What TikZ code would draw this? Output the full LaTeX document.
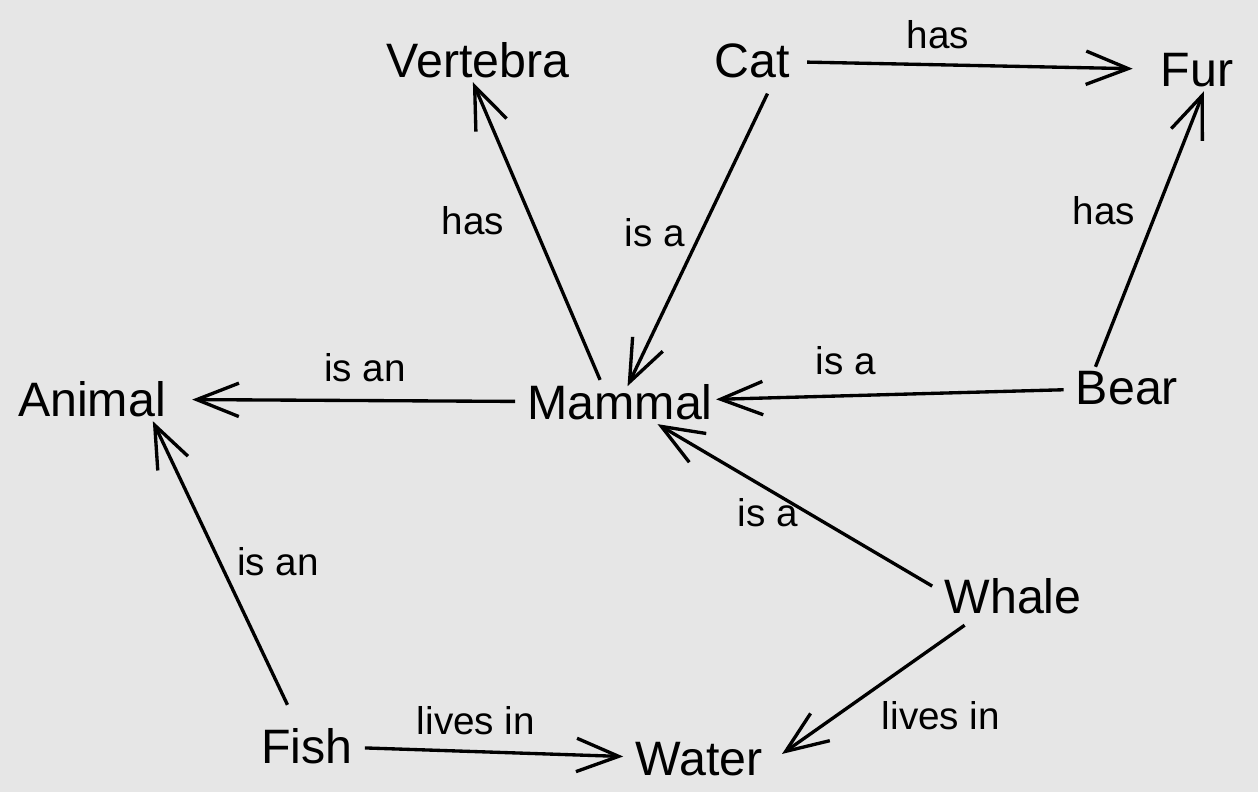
\documentclass[tikz,border=0pt]{standalone}
\usepackage{fontspec}
\setmainfont{Liberation Sans}
\usetikzlibrary{arrows.meta}
\definecolor{canvas}{RGB}{230,230,230}

\begin{document}
\begin{tikzpicture}[x=0.02cm, y=-0.02cm,
  concept/.style={font=\fontsize{27.5}{30}\selectfont, inner xsep=6.8pt, inner ysep=2.3pt},
  rel/.style={line width=1.9pt, -{Straight Barb[length=24pt, width=19pt]}},
  lbl/.style={font=\fontsize{22}{26}\selectfont, inner sep=0pt}]
  % Background
  \fill[canvas] (0,0) rectangle (1258,792);

  % Concepts
  \node[concept] (vertebra) at (478,60) {Vertebra};
  \node[concept] (cat) at (752,61) {Cat};
  \node[concept] (fur) at (1197,70) {Fur};
  \node[concept] (animal) at (92,399) {Animal};
  \node[concept] (mammal) at (620,402) {Mammal};
  \node[concept] (bear) at (1127,388) {Bear};
  \node[concept] (whale) at (1013,596) {Whale};
  \node[concept] (fish) at (307,746) {Fish};
  \node[concept] (water) at (699,759) {Water};

  % Relations
  \draw[rel, shorten <=3pt, shorten >=9pt] (cat) -- (fur);
  \draw[rel, shorten <=7pt, shorten >=-4pt] (cat.-46) -- (mammal);
  \draw[rel] (mammal.132) -- (vertebra.-103);
  \draw[rel, shorten >=8pt] (mammal) -- (animal);
  \draw[rel, shorten >=-5pt] (bear) -- (mammal);
  \draw[rel] (bear.146) -- (fur.-72);
  \draw[rel] (whale.173) -- (mammal);
  \draw[rel, shorten <=7pt, shorten >=5pt] (whale.210) -- (water.east);
  \draw[rel, shorten <=12pt] (fish) -- (animal.-20);
  \draw[rel] (fish) -- (water);

  % Relation labels
  \node[lbl] (catfur) at (938,35) {has};
  \node[lbl] (catmammal) at (655,233) {is a};
  \node[lbl] (mammalvertebra) at (473,221) {has};
  \node[lbl] (mammalanimal) at (365,368) {is an};
  \node[lbl] (bearmammal) at (846,361) {is a};
  \node[lbl] (bearfur) at (1104,211) {has};
  \node[lbl] (whalemammal) at (768,513) {is a};
  \node[lbl] (whalewater) at (941,716) {lives in};
  \node[lbl] (fishanimal) at (278,562) {is an};
  \node[lbl] (fishwater) at (476,721) {lives in};
\end{tikzpicture}
\end{document}
